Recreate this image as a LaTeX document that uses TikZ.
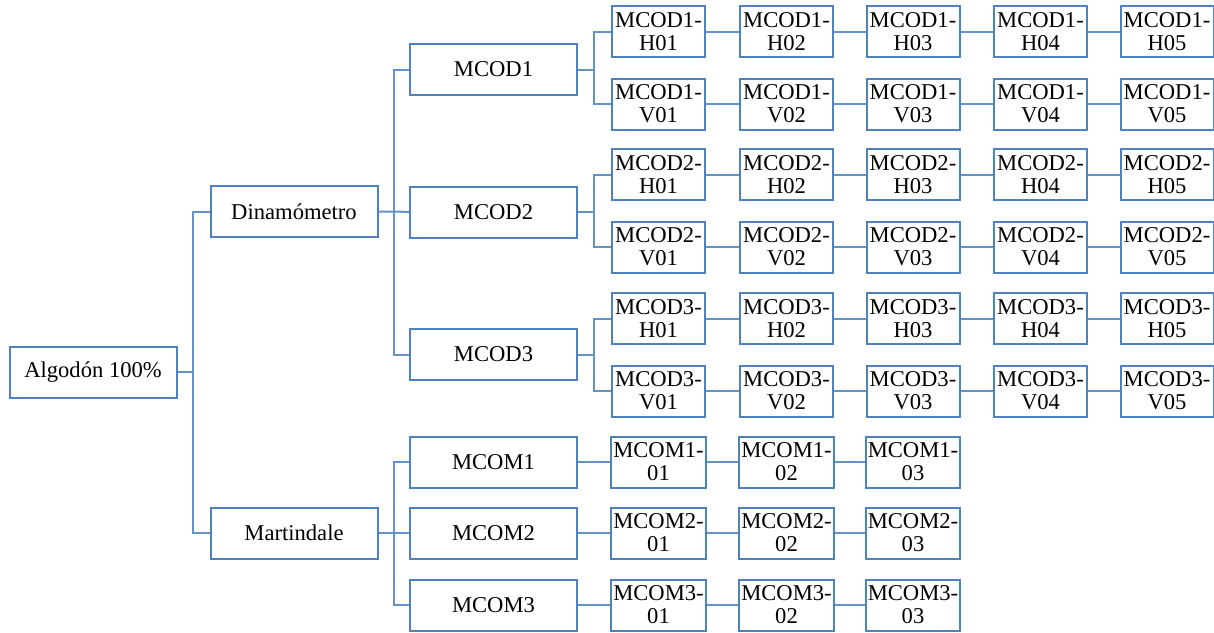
\documentclass[tikz,border=0pt]{standalone}
\usepackage{fontspec}
\setmainfont{Liberation Serif}
\usetikzlibrary{positioning}
\definecolor{boxblue}{RGB}{79,129,189}
\definecolor{lineblue}{RGB}{100,145,200}

\begin{document}
\begin{tikzpicture}[x=0.5pt,y=-0.5pt,
  font=\fontsize{11.3}{11.5}\selectfont,
  bigbox/.style={draw=boxblue, line width=1pt, minimum width=83.5pt, minimum height=25.5pt, inner sep=1pt},
  smallbox/.style={draw=boxblue, line width=1pt, minimum width=46.5pt, minimum height=25.5pt, inner sep=1pt, align=center},
  link/.style={lineblue, line width=1pt}]
\useasboundingbox (0,0) rectangle (1214,632);
% first two levels
\node[bigbox] (alg) at (93,372) {Algodón 100\%};
\node[bigbox] (dina) at (294,211.5) {Dinamómetro};
\node[bigbox] (mart) at (294,533) {Martindale};
\node[bigbox] (mcod1) at (493.5,69.5) {MCOD1};
\node[bigbox] (mcod2) at (493.5,212) {MCOD2};
\node[bigbox] (mcod3) at (493.5,354.5) {MCOD3};
\node[bigbox] (mcom1) at (493.5,462) {MCOM1};
\node[bigbox] (mcom2) at (493.5,533) {MCOM2};
\node[bigbox] (mcom3) at (493.5,605) {MCOM3};
% MCOD1
\node[smallbox] (d1h1) at (658.5,31.5) {MCOD1-\\H01};
\node[smallbox] (d1h2) at (786.5,31.5) {MCOD1-\\H02};
\node[smallbox] (d1h3) at (913,31.5) {MCOD1-\\H03};
\node[smallbox] (d1h4) at (1040.5,31.5) {MCOD1-\\H04};
\node[smallbox] (d1h5) at (1167,31.5) {MCOD1-\\H05};
\node[smallbox] (d1v1) at (658.5,104) {MCOD1-\\V01};
\node[smallbox] (d1v2) at (786.5,104) {MCOD1-\\V02};
\node[smallbox] (d1v3) at (913,104) {MCOD1-\\V03};
\node[smallbox] (d1v4) at (1040.5,104) {MCOD1-\\V04};
\node[smallbox] (d1v5) at (1167,104) {MCOD1-\\V05};
% MCOD2
\node[smallbox] (d2h1) at (658.5,174.5) {MCOD2-\\H01};
\node[smallbox] (d2h2) at (786.5,174.5) {MCOD2-\\H02};
\node[smallbox] (d2h3) at (913,174.5) {MCOD2-\\H03};
\node[smallbox] (d2h4) at (1040.5,174.5) {MCOD2-\\H04};
\node[smallbox] (d2h5) at (1167,174.5) {MCOD2-\\H05};
\node[smallbox] (d2v1) at (658.5,247) {MCOD2-\\V01};
\node[smallbox] (d2v2) at (786.5,247) {MCOD2-\\V02};
\node[smallbox] (d2v3) at (913,247) {MCOD2-\\V03};
\node[smallbox] (d2v4) at (1040.5,247) {MCOD2-\\V04};
\node[smallbox] (d2v5) at (1167,247) {MCOD2-\\V05};
% MCOD3
\node[smallbox] (d3h1) at (658.5,318.5) {MCOD3-\\H01};
\node[smallbox] (d3h2) at (786.5,318.5) {MCOD3-\\H02};
\node[smallbox] (d3h3) at (913,318.5) {MCOD3-\\H03};
\node[smallbox] (d3h4) at (1040.5,318.5) {MCOD3-\\H04};
\node[smallbox] (d3h5) at (1167,318.5) {MCOD3-\\H05};
\node[smallbox] (d3v1) at (658.5,391) {MCOD3-\\V01};
\node[smallbox] (d3v2) at (786.5,391) {MCOD3-\\V02};
\node[smallbox] (d3v3) at (913,391) {MCOD3-\\V03};
\node[smallbox] (d3v4) at (1040.5,391) {MCOD3-\\V04};
\node[smallbox] (d3v5) at (1167,391) {MCOD3-\\V05};
% MCOM
\node[smallbox] (m1c1) at (658.5,462) {MCOM1-\\01};
\node[smallbox] (m1c2) at (786.5,462) {MCOM1-\\02};
\node[smallbox] (m1c3) at (913,462) {MCOM1-\\03};
\node[smallbox] (m2c1) at (658.5,533) {MCOM2-\\01};
\node[smallbox] (m2c2) at (786.5,533) {MCOM2-\\02};
\node[smallbox] (m2c3) at (913,533) {MCOM2-\\03};
\node[smallbox] (m3c1) at (658.5,605) {MCOM3-\\01};
\node[smallbox] (m3c2) at (786.5,605) {MCOM3-\\02};
\node[smallbox] (m3c3) at (913,605) {MCOM3-\\03};
% branch points
\coordinate (ja) at (193,372);
\coordinate (jd) at (394,211.5);
\coordinate (jm) at (394,533);
\coordinate (j1) at (594,69.5);
\coordinate (j2) at (594,212);
\coordinate (j3) at (594,354.5);
% tree lines
\draw[link] (alg.east) -- (ja);
\draw[link] (dina.west) -| (ja) |- (mart.west);
\draw[link] (dina.east) -- (jd) -- (mcod2.west);
\draw[link] (mcod1.west) -| (jd) |- (mcod3.west);
\draw[link] (mart.east) -- (jm) -- (mcom2.west);
\draw[link] (mcom1.west) -| (jm) |- (mcom3.west);
\draw[link] (mcod1.east) -- (j1);
\draw[link] (d1h1.west) -| (j1) |- (d1v1.west);
\draw[link] (mcod2.east) -- (j2);
\draw[link] (d2h1.west) -| (j2) |- (d2v1.west);
\draw[link] (mcod3.east) -- (j3);
\draw[link] (d3h1.west) -| (j3) |- (d3v1.west);
% rows
\draw[link] (d1h1) -- (d1h2) -- (d1h3) -- (d1h4) -- (d1h5);
\draw[link] (d1v1) -- (d1v2) -- (d1v3) -- (d1v4) -- (d1v5);
\draw[link] (d2h1) -- (d2h2) -- (d2h3) -- (d2h4) -- (d2h5);
\draw[link] (d2v1) -- (d2v2) -- (d2v3) -- (d2v4) -- (d2v5);
\draw[link] (d3h1) -- (d3h2) -- (d3h3) -- (d3h4) -- (d3h5);
\draw[link] (d3v1) -- (d3v2) -- (d3v3) -- (d3v4) -- (d3v5);
\draw[link] (mcom1) -- (m1c1) -- (m1c2) -- (m1c3);
\draw[link] (mcom2) -- (m2c1) -- (m2c2) -- (m2c3);
\draw[link] (mcom3) -- (m3c1) -- (m3c2) -- (m3c3);
\end{tikzpicture}
\end{document}
